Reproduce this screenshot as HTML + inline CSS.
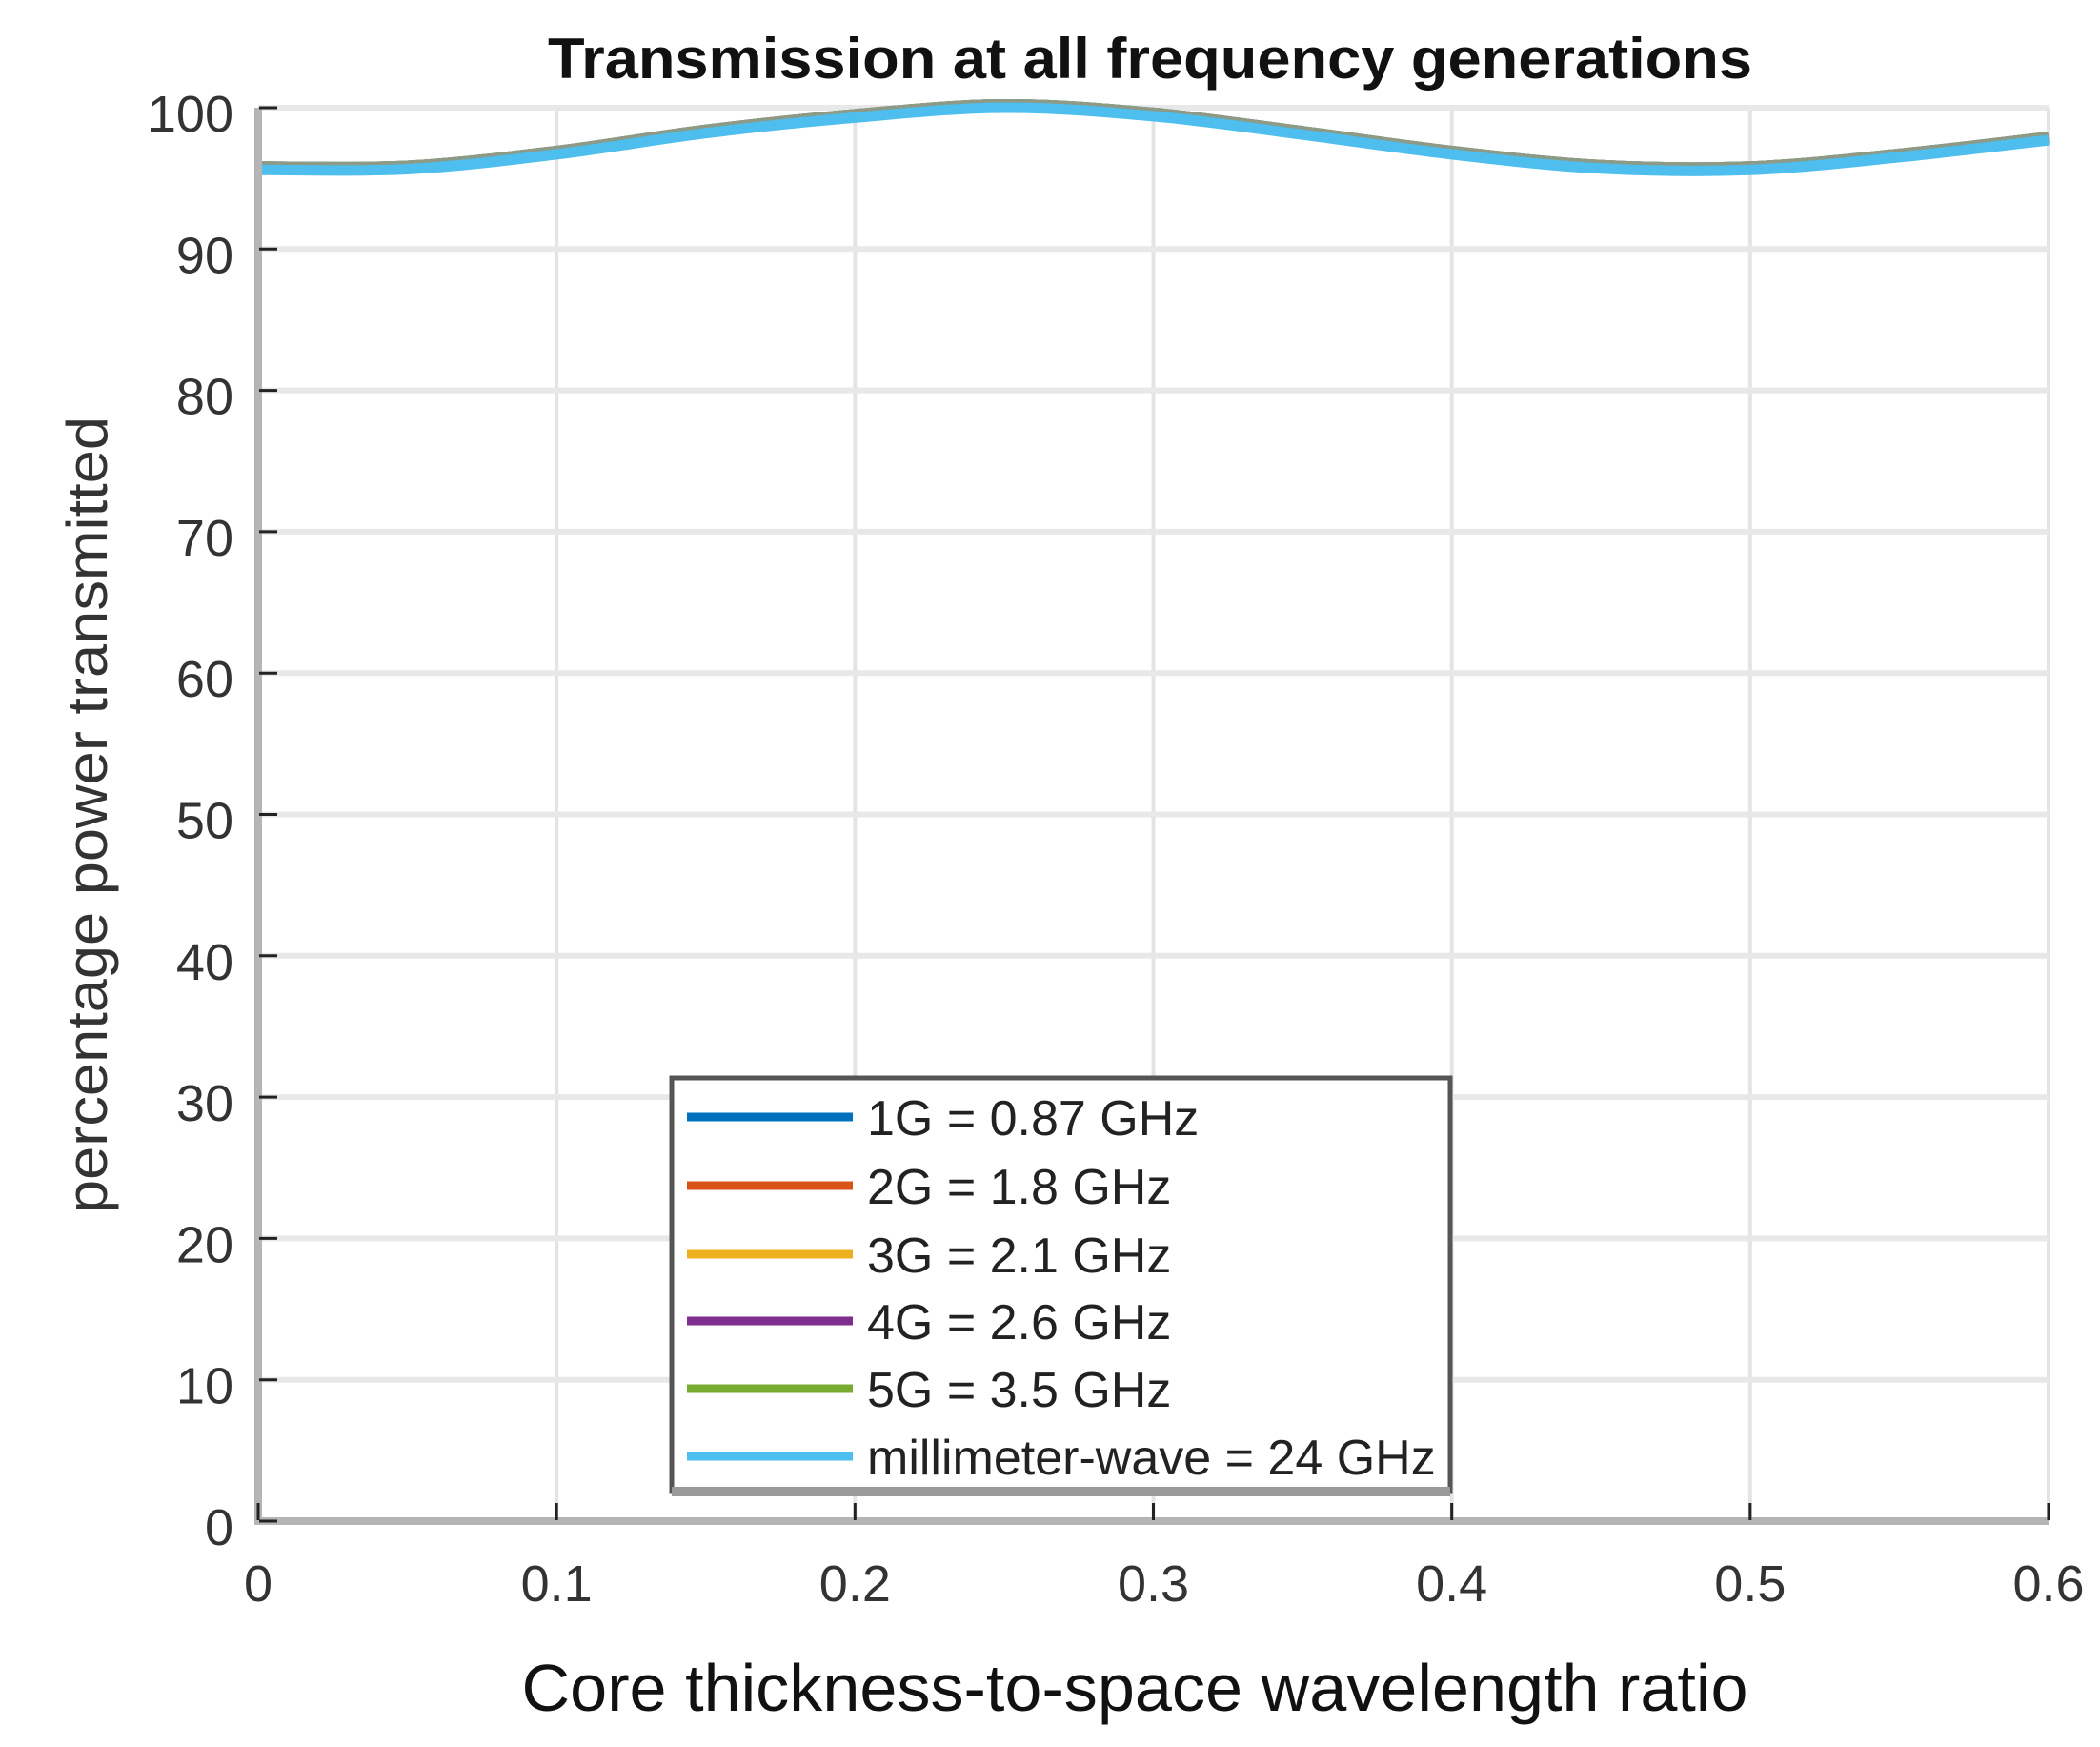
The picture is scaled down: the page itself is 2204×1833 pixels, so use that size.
<!DOCTYPE html>
<html><head><meta charset="utf-8"><style>
html,body{margin:0;padding:0;background:#fff;}
svg{display:block;font-family:"Liberation Sans",Arial,sans-serif;}
</style></head><body>
<svg id="chart" width="2204" height="1833" viewBox="0 0 2204 1833" xmlns="http://www.w3.org/2000/svg">
<text x="1207" y="82" text-anchor="middle" font-size="60" font-weight="bold" fill="#111" textLength="1264" lengthAdjust="spacingAndGlyphs">Transmission at all frequency generations</text>
<g id="grid"></g>
<g id="series"></g>
<g id="axes"></g>
<text transform="translate(112,855) rotate(-90)" text-anchor="middle" font-size="60" fill="#333" textLength="836" lengthAdjust="spacingAndGlyphs">percentage power transmitted</text>
<text x="1191" y="1795" text-anchor="middle" font-size="70" fill="#111" textLength="1287" lengthAdjust="spacingAndGlyphs">Core thickness-to-space wavelength ratio</text>
<g id="legend"></g>
</svg>
<script>
const xValues = [0,0.05,0.1,0.15,0.2,0.25,0.3,0.35,0.4,0.45,0.5,0.55,0.6];
const series1G = [95.6,95.65,96.7,98.2,99.3,100,99.4,98.1,96.7,95.7,95.6,96.5,97.7];
const series2G = [95.6,95.65,96.7,98.2,99.3,100,99.4,98.1,96.7,95.7,95.6,96.5,97.7];
const series3G = [95.6,95.65,96.7,98.2,99.3,100,99.4,98.1,96.7,95.7,95.6,96.5,97.7];
const series4G = [95.6,95.65,96.7,98.2,99.3,100,99.4,98.1,96.7,95.7,95.6,96.5,97.7];
const series5G = [95.6,95.65,96.7,98.2,99.3,100,99.4,98.1,96.7,95.7,95.6,96.5,97.7];
const seriesMM = [95.6,95.65,96.7,98.2,99.3,100,99.4,98.1,96.7,95.7,95.6,96.5,97.7];
const seriesNames = ["1G = 0.87 GHz","2G = 1.8 GHz","3G = 2.1 GHz","4G = 2.6 GHz","5G = 3.5 GHz","millimeter-wave = 24 GHz"];
const xTicks = [0,0.1,0.2,0.3,0.4,0.5,0.6];
const xTickLabels = ["0","0.1","0.2","0.3","0.4","0.5","0.6"];
const yTicks = [0,10,20,30,40,50,60,70,80,90,100];
const yTickLabels = ["0","10","20","30","40","50","60","70","80","90","100"];

const NS="http://www.w3.org/2000/svg";
const X0=271,X1=2150,Y0=1596,Y1=113;
function sx(v){return X0+(v-0)/(0.6-0)*(X1-X0);}
function sy(v){return Y0-(v-0)/(100-0)*(Y0-Y1);}
function mk(tag,attrs,parent){const e=document.createElementNS(NS,tag);for(const k in attrs)e.setAttribute(k,attrs[k]);parent.appendChild(e);return e;}

const grid=document.getElementById('grid');
xTicks.forEach((t,i)=>{
  const l=mk('line',{x1:sx(t),x2:sx(t),y1:Y1,y2:Y0,stroke:'#e4e4e4','stroke-width':4},grid);
  
  
});
yTicks.forEach((t,i)=>{
  const l=mk('line',{x1:X0,x2:X1,y1:sy(t),y2:sy(t),stroke:'#e8e8e8','stroke-width':6},grid);
  
  
});

const sg=document.getElementById('series');
const colors=["#0072BD","#D95319","#EDB120","#7E2F8E","#77AC30","#4DBEEE"];
const allSeries=[series1G,series2G,series3G,series4G,series5G,seriesMM];
function pathOf(arr){
  const P=arr.map((v,i)=>[sx(xValues[i]),sy(v)]);
  let d='M'+P[0][0].toFixed(1)+','+P[0][1].toFixed(1);
  for(let i=0;i<P.length-1;i++){
    const p0=P[Math.max(i-1,0)],p1=P[i],p2=P[i+1],p3=P[Math.min(i+2,P.length-1)];
    const c1=[p1[0]+(p2[0]-p0[0])/6,p1[1]+(p2[1]-p0[1])/6];
    const c2=[p2[0]-(p3[0]-p1[0])/6,p2[1]-(p3[1]-p1[1])/6];
    d+=' C'+c1[0].toFixed(1)+','+c1[1].toFixed(1)+' '+c2[0].toFixed(1)+','+c2[1].toFixed(1)+' '+p2[0].toFixed(1)+','+p2[1].toFixed(1);
  }
  return d;
}
allSeries.forEach((arr,k)=>{
  const last=k===allSeries.length-1;
  const p=mk('path',{d:pathOf(arr),fill:'none',stroke:last?colors[k]:'#8c9a86','stroke-width':last?11:12,'stroke-linejoin':'round',transform:last?'':'translate(0,-3)'},sg);
  
  
});

const ax=document.getElementById('axes');
const yl=mk('line',{x1:X0,x2:X0,y1:Y1,y2:Y0+4,stroke:'#b5b5b5','stroke-width':8},ax);


const xl=mk('line',{x1:X0-4,x2:X1,y1:Y0,y2:Y0,stroke:'#b5b5b5','stroke-width':8},ax);


yTicks.forEach((t,i)=>{
  const tk=mk('line',{x1:X0+1,x2:X0+20,y1:sy(t),y2:sy(t),stroke:'#222','stroke-width':3},ax);
  
  
  const tx=mk('text',{x:245,y:sy(t)+25,'text-anchor':'end','font-size':54,fill:'#333'},ax);
  tx.textContent=yTickLabels[i];
  
  
});
xTicks.forEach((t,i)=>{
  const tk=mk('line',{x1:sx(t),x2:sx(t),y1:Y0-1,y2:Y0-19,stroke:'#222','stroke-width':3},ax);
  
  
  const tx=mk('text',{x:sx(t),y:1680,'text-anchor':'middle','font-size':54,fill:'#333'},ax);
  tx.textContent=xTickLabels[i];
  
  
});

const lg=document.getElementById('legend');
const box=mk('rect',{x:705,y:1131,width:817,height:434,fill:'#fff',stroke:'#555','stroke-width':5},lg);


const sh=mk('rect',{x:705,y:1560,width:817,height:10,fill:'#999'},lg);


const rowsY=[1172,1244,1316,1386,1457,1528];
seriesNames.forEach((n,k)=>{
  const l=mk('line',{x1:721,x2:895,y1:rowsY[k],y2:rowsY[k],stroke:colors[k],'stroke-width':9},lg);
  
  
  const t=mk('text',{x:910,y:rowsY[k]+19,'font-size':52,fill:'#222'},lg);
  t.textContent=n;
  
  
});
</script>
</body></html>
